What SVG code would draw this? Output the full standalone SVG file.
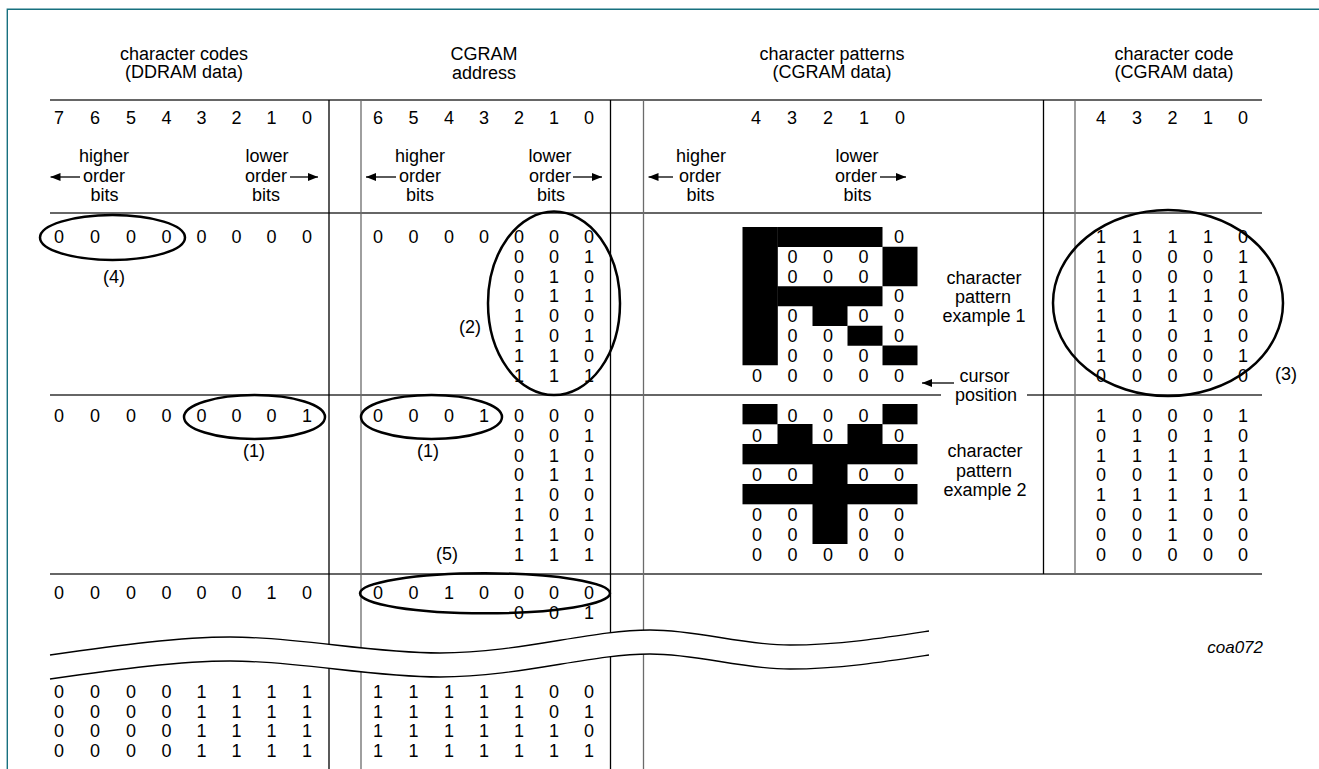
<svg xmlns="http://www.w3.org/2000/svg" width="1319" height="769" viewBox="0 0 1319 769">
<style>
text{font-family:"Liberation Sans",Arial,sans-serif;font-size:18px;fill:#000;text-anchor:middle}
.it{font-style:italic;text-anchor:end;font-size:17px}
.hl{stroke:#333;stroke-width:1.4;fill:none}
.vb{stroke:#000;stroke-width:1.3}
.vg{stroke:#6b6b6b;stroke-width:1.3}
.el{fill:none;stroke:#000;stroke-width:2.5}
.blk{fill:#000}
.ar{stroke:#000;stroke-width:1.3}
.wv{fill:none;stroke:#000;stroke-width:1.3}
</style>
<defs>
<marker id="ah" viewBox="0 0 10 8" refX="10" refY="4" markerWidth="10" markerHeight="8" markerUnits="userSpaceOnUse" orient="auto">
<path d="M0,0 L10,4 L0,8 Z" fill="#000"/>
</marker>
</defs>
<rect width="1319" height="769" fill="#fff"/>
<path d="M7.3,769 V9.3 H1319" fill="none" stroke="#17707f" stroke-width="1.4"/>

<g id="grid">
<line class="hl" x1="50" y1="100" x2="1262" y2="100"/>
<line class="hl" x1="50" y1="213" x2="1262" y2="213"/>
<line class="hl" x1="50" y1="395" x2="941" y2="395"/>
<line class="hl" x1="1027" y1="395" x2="1262" y2="395"/>
<line class="hl" x1="50" y1="574" x2="1262" y2="574"/>
<line class="vb" x1="329" y1="100" x2="329" y2="769"/>
<line class="vg" x1="361" y1="100" x2="361" y2="769"/>
<line class="vb" x1="610.5" y1="100" x2="610.5" y2="769"/>
<line class="vg" x1="643.5" y1="100" x2="643.5" y2="769"/>
<line class="vb" x1="1043.5" y1="100" x2="1043.5" y2="574"/>
<line class="vg" x1="1075" y1="100" x2="1075" y2="574"/>
</g>

<g id="titles">
<text x="184" y="60">character codes</text>
<text x="184" y="78">(DDRAM data)</text>
<text x="484" y="60">CGRAM</text>
<text x="484" y="79">address</text>
<text x="832" y="60">character patterns</text>
<text x="832" y="78">(CGRAM data)</text>
<text x="1174" y="60">character code</text>
<text x="1174" y="78">(CGRAM data)</text>
</g>

<g id="bit-headers">
<text x="59" y="124">7</text><text x="95" y="124">6</text><text x="131" y="124">5</text><text x="166.5" y="124">4</text><text x="201.5" y="124">3</text><text x="236.5" y="124">2</text><text x="271.5" y="124">1</text><text x="307" y="124">0</text>
<text x="378" y="124">6</text><text x="413.5" y="124">5</text><text x="449" y="124">4</text><text x="484" y="124">3</text><text x="519" y="124">2</text><text x="554" y="124">1</text><text x="589" y="124">0</text>
<text x="756" y="124">4</text><text x="792" y="124">3</text><text x="828" y="124">2</text><text x="864" y="124">1</text><text x="900" y="124">0</text>
<text x="1101" y="124">4</text><text x="1137" y="124">3</text><text x="1172.5" y="124">2</text><text x="1208" y="124">1</text><text x="1243" y="124">0</text>
</g>

<g id="order-labels">
<text x="104" y="161.5">higher</text><text x="104" y="181.5">order</text><text x="104.5" y="200.5">bits</text>
<text x="267" y="161.5">lower</text><text x="266" y="181.5">order</text><text x="266" y="200.5">bits</text>
<text x="420" y="161.5">higher</text><text x="420" y="181.5">order</text><text x="420" y="200.5">bits</text>
<text x="550" y="161.5">lower</text><text x="550" y="181.5">order</text><text x="551" y="200.5">bits</text>
<text x="701" y="161.5">higher</text><text x="700" y="181.5">order</text><text x="700.5" y="200.5">bits</text>
<text x="857" y="161.5">lower</text><text x="856" y="181.5">order</text><text x="857.5" y="200.5">bits</text>
</g>

<g id="connectors">
<line class="ar" x1="80" y1="177" x2="50.5" y2="177" marker-end="url(#ah)"/>
<line class="ar" x1="290" y1="177" x2="318" y2="177" marker-end="url(#ah)"/>
<line class="ar" x1="396" y1="177" x2="366" y2="177" marker-end="url(#ah)"/>
<line class="ar" x1="573" y1="177" x2="602" y2="177" marker-end="url(#ah)"/>
<line class="ar" x1="673" y1="177" x2="648.5" y2="177" marker-end="url(#ah)"/>
<line class="ar" x1="880" y1="177" x2="906" y2="177" marker-end="url(#ah)"/>
<line class="ar" x1="954" y1="383" x2="922" y2="383" marker-end="url(#ah)"/>
</g>

<g id="row0">
<text x="59" y="243">0</text><text x="95" y="243">0</text><text x="131" y="243">0</text><text x="166.5" y="243">0</text><text x="201.5" y="243">0</text><text x="236.5" y="243">0</text><text x="271.5" y="243">0</text><text x="307" y="243">0</text>
<text x="378" y="243">0</text><text x="413.5" y="243">0</text><text x="449" y="243">0</text><text x="484" y="243">0</text>
<text x="519" y="243">0</text><text x="554" y="243">0</text><text x="589" y="243">0</text>
<text x="519" y="262.8">0</text><text x="554" y="262.8">0</text><text x="589" y="262.8">1</text>
<text x="519" y="282.6">0</text><text x="554" y="282.6">1</text><text x="589" y="282.6">0</text>
<text x="519" y="302.4">0</text><text x="554" y="302.4">1</text><text x="589" y="302.4">1</text>
<text x="519" y="322.2">1</text><text x="554" y="322.2">0</text><text x="589" y="322.2">0</text>
<text x="519" y="342">1</text><text x="554" y="342">0</text><text x="589" y="342">1</text>
<text x="519" y="361.8">1</text><text x="554" y="361.8">1</text><text x="589" y="361.8">0</text>
<text x="519" y="381.6">1</text><text x="554" y="381.6">1</text><text x="589" y="381.6">1</text>
<ellipse class="el" cx="112.5" cy="237.5" rx="72.5" ry="22.5"/>
<text x="114" y="283">(4)</text>
<ellipse class="el" cx="554" cy="303.3" rx="66" ry="91.7"/>
<text x="470" y="333">(2)</text>
</g>

<g id="pattern1">
<rect class="blk" x="742.5" y="227" width="35.3" height="138.25"/>
<rect class="blk" x="777.5" y="227" width="105" height="20"/>
<rect class="blk" x="777.5" y="286.25" width="105" height="20"/>
<rect class="blk" x="882.5" y="246.75" width="35" height="39.5"/>
<rect class="blk" x="812.5" y="306" width="35" height="20"/>
<rect class="blk" x="847.5" y="325.75" width="35" height="20"/>
<rect class="blk" x="882.5" y="345.5" width="35" height="19.75"/>
<text x="899" y="243">0</text>
<text x="792.5" y="262.8">0</text><text x="828" y="262.8">0</text><text x="863.5" y="262.8">0</text>
<text x="792.5" y="282.6">0</text><text x="828" y="282.6">0</text><text x="863.5" y="282.6">0</text>
<text x="899" y="302.4">0</text>
<text x="792.5" y="322.2">0</text><text x="863.5" y="322.2">0</text><text x="899" y="322.2">0</text>
<text x="792.5" y="342">0</text><text x="828" y="342">0</text><text x="899" y="342">0</text>
<text x="792.5" y="361.8">0</text><text x="828" y="361.8">0</text><text x="863.5" y="361.8">0</text>
<text x="757" y="381.6">0</text><text x="792.5" y="381.6">0</text><text x="828" y="381.6">0</text><text x="863.5" y="381.6">0</text><text x="899" y="381.6">0</text>
<text x="984" y="284">character</text>
<text x="983" y="302.5">pattern</text>
<text x="984" y="321.5">example 1</text>
<text x="984.5" y="382">cursor</text>
<text x="986" y="401">position</text>
</g>

<g id="code1">
<text x="1101" y="243">1</text><text x="1137" y="243">1</text><text x="1172.5" y="243">1</text><text x="1208" y="243">1</text><text x="1243" y="243">0</text>
<text x="1101" y="262.8">1</text><text x="1137" y="262.8">0</text><text x="1172.5" y="262.8">0</text><text x="1208" y="262.8">0</text><text x="1243" y="262.8">1</text>
<text x="1101" y="282.6">1</text><text x="1137" y="282.6">0</text><text x="1172.5" y="282.6">0</text><text x="1208" y="282.6">0</text><text x="1243" y="282.6">1</text>
<text x="1101" y="302.4">1</text><text x="1137" y="302.4">1</text><text x="1172.5" y="302.4">1</text><text x="1208" y="302.4">1</text><text x="1243" y="302.4">0</text>
<text x="1101" y="322.2">1</text><text x="1137" y="322.2">0</text><text x="1172.5" y="322.2">1</text><text x="1208" y="322.2">0</text><text x="1243" y="322.2">0</text>
<text x="1101" y="342">1</text><text x="1137" y="342">0</text><text x="1172.5" y="342">0</text><text x="1208" y="342">1</text><text x="1243" y="342">0</text>
<text x="1101" y="361.8">1</text><text x="1137" y="361.8">0</text><text x="1172.5" y="361.8">0</text><text x="1208" y="361.8">0</text><text x="1243" y="361.8">1</text>
<text x="1101" y="381.6">0</text><text x="1137" y="381.6">0</text><text x="1172.5" y="381.6">0</text><text x="1208" y="381.6">0</text><text x="1243" y="381.6">0</text>
<ellipse class="el" cx="1168" cy="303" rx="115" ry="93"/>
<text x="1286" y="380">(3)</text>
</g>

<g id="row1">
<text x="59" y="422">0</text><text x="95" y="422">0</text><text x="131" y="422">0</text><text x="166.5" y="422">0</text><text x="201.5" y="422">0</text><text x="236.5" y="422">0</text><text x="271.5" y="422">0</text><text x="307" y="422">1</text>
<text x="378" y="422">0</text><text x="413.5" y="422">0</text><text x="449" y="422">0</text><text x="484" y="422">1</text>
<text x="519" y="422">0</text><text x="554" y="422">0</text><text x="589" y="422">0</text>
<text x="519" y="441.8">0</text><text x="554" y="441.8">0</text><text x="589" y="441.8">1</text>
<text x="519" y="461.6">0</text><text x="554" y="461.6">1</text><text x="589" y="461.6">0</text>
<text x="519" y="481.4">0</text><text x="554" y="481.4">1</text><text x="589" y="481.4">1</text>
<text x="519" y="501.2">1</text><text x="554" y="501.2">0</text><text x="589" y="501.2">0</text>
<text x="519" y="521">1</text><text x="554" y="521">0</text><text x="589" y="521">1</text>
<text x="519" y="540.8">1</text><text x="554" y="540.8">1</text><text x="589" y="540.8">0</text>
<text x="519" y="560.6">1</text><text x="554" y="560.6">1</text><text x="589" y="560.6">1</text>
<ellipse class="el" cx="254.5" cy="417" rx="70.5" ry="22"/>
<ellipse class="el" cx="431.5" cy="417" rx="70.5" ry="22"/>
<text x="254" y="457">(1)</text>
<text x="428" y="457">(1)</text>
<text x="447" y="560">(5)</text>
</g>

<g id="pattern2">
<rect class="blk" x="742.5" y="404" width="35" height="20.3"/>
<rect class="blk" x="882.5" y="404" width="35" height="20.3"/>
<rect class="blk" x="777.5" y="424" width="35" height="20.3"/>
<rect class="blk" x="847.5" y="424" width="35" height="20.3"/>
<rect class="blk" x="742.5" y="444" width="175" height="20.3"/>
<rect class="blk" x="812.5" y="464" width="35" height="20.3"/>
<rect class="blk" x="742.5" y="484" width="175" height="20.3"/>
<rect class="blk" x="812.5" y="504" width="35" height="40"/>
<text x="792.5" y="422">0</text><text x="828" y="422">0</text><text x="863.5" y="422">0</text>
<text x="757" y="441.8">0</text><text x="828" y="441.8">0</text><text x="899" y="441.8">0</text>
<text x="757" y="481.4">0</text><text x="792.5" y="481.4">0</text><text x="863.5" y="481.4">0</text><text x="899" y="481.4">0</text>
<text x="757" y="521">0</text><text x="792.5" y="521">0</text><text x="863.5" y="521">0</text><text x="899" y="521">0</text>
<text x="757" y="540.8">0</text><text x="792.5" y="540.8">0</text><text x="863.5" y="540.8">0</text><text x="899" y="540.8">0</text>
<text x="757" y="560.6">0</text><text x="792.5" y="560.6">0</text><text x="828" y="560.6">0</text><text x="863.5" y="560.6">0</text><text x="899" y="560.6">0</text>
<text x="985" y="457">character</text>
<text x="984" y="476.5">pattern</text>
<text x="985" y="496">example 2</text>
</g>

<g id="code2">
<text x="1101" y="422">1</text><text x="1137" y="422">0</text><text x="1172.5" y="422">0</text><text x="1208" y="422">0</text><text x="1243" y="422">1</text>
<text x="1101" y="441.8">0</text><text x="1137" y="441.8">1</text><text x="1172.5" y="441.8">0</text><text x="1208" y="441.8">1</text><text x="1243" y="441.8">0</text>
<text x="1101" y="461.6">1</text><text x="1137" y="461.6">1</text><text x="1172.5" y="461.6">1</text><text x="1208" y="461.6">1</text><text x="1243" y="461.6">1</text>
<text x="1101" y="481.4">0</text><text x="1137" y="481.4">0</text><text x="1172.5" y="481.4">1</text><text x="1208" y="481.4">0</text><text x="1243" y="481.4">0</text>
<text x="1101" y="501.2">1</text><text x="1137" y="501.2">1</text><text x="1172.5" y="501.2">1</text><text x="1208" y="501.2">1</text><text x="1243" y="501.2">1</text>
<text x="1101" y="521">0</text><text x="1137" y="521">0</text><text x="1172.5" y="521">1</text><text x="1208" y="521">0</text><text x="1243" y="521">0</text>
<text x="1101" y="540.8">0</text><text x="1137" y="540.8">0</text><text x="1172.5" y="540.8">1</text><text x="1208" y="540.8">0</text><text x="1243" y="540.8">0</text>
<text x="1101" y="560.6">0</text><text x="1137" y="560.6">0</text><text x="1172.5" y="560.6">0</text><text x="1208" y="560.6">0</text><text x="1243" y="560.6">0</text>
</g>

<g id="row2">
<text x="59" y="599">0</text><text x="95" y="599">0</text><text x="131" y="599">0</text><text x="166.5" y="599">0</text><text x="201.5" y="599">0</text><text x="236.5" y="599">0</text><text x="271.5" y="599">1</text><text x="307" y="599">0</text>
<text x="378" y="599">0</text><text x="413.5" y="599">0</text><text x="449" y="599">1</text><text x="484" y="599">0</text><text x="519" y="599">0</text><text x="554" y="599">0</text><text x="589" y="599">0</text>
<text x="519" y="619">0</text><text x="554" y="619">0</text><text x="589" y="619">1</text>
<ellipse class="el" cx="485" cy="593.3" rx="125" ry="20"/>
</g>

<g id="break">
<path d="M50,655 C120,645 180,637 230,637 C300,637 370,653 440,653 C520,653 590,630 650,630 C700,630 740,645 790,645 C840,645 890,637 929,631 L929,655 C890,661 840,669 790,669 C740,669 700,654 650,654 C590,654 520,677 440,677 C370,677 300,661 230,661 C180,661 120,669 50,679 Z" fill="#fff"/>
<path class="wv" d="M50,655 C120,645 180,637 230,637 C300,637 370,653 440,653 C520,653 590,630 650,630 C700,630 740,645 790,645 C840,645 890,637 929,631"/>
<path class="wv" d="M50,679 C120,669 180,661 230,661 C300,661 370,677 440,677 C520,677 590,654 650,654 C700,654 740,669 790,669 C840,669 890,661 929,655"/>
<text class="it" x="1263" y="653">coa072</text>
</g>

<g id="rows-last">
<text x="59" y="698">0</text><text x="95" y="698">0</text><text x="131" y="698">0</text><text x="166.5" y="698">0</text><text x="201.5" y="698">1</text><text x="236.5" y="698">1</text><text x="271.5" y="698">1</text><text x="307" y="698">1</text>
<text x="59" y="717.5">0</text><text x="95" y="717.5">0</text><text x="131" y="717.5">0</text><text x="166.5" y="717.5">0</text><text x="201.5" y="717.5">1</text><text x="236.5" y="717.5">1</text><text x="271.5" y="717.5">1</text><text x="307" y="717.5">1</text>
<text x="59" y="737">0</text><text x="95" y="737">0</text><text x="131" y="737">0</text><text x="166.5" y="737">0</text><text x="201.5" y="737">1</text><text x="236.5" y="737">1</text><text x="271.5" y="737">1</text><text x="307" y="737">1</text>
<text x="59" y="756.5">0</text><text x="95" y="756.5">0</text><text x="131" y="756.5">0</text><text x="166.5" y="756.5">0</text><text x="201.5" y="756.5">1</text><text x="236.5" y="756.5">1</text><text x="271.5" y="756.5">1</text><text x="307" y="756.5">1</text>
<text x="378" y="698">1</text><text x="413.5" y="698">1</text><text x="449" y="698">1</text><text x="484" y="698">1</text><text x="519" y="698">1</text><text x="554" y="698">0</text><text x="589" y="698">0</text>
<text x="378" y="717.5">1</text><text x="413.5" y="717.5">1</text><text x="449" y="717.5">1</text><text x="484" y="717.5">1</text><text x="519" y="717.5">1</text><text x="554" y="717.5">0</text><text x="589" y="717.5">1</text>
<text x="378" y="737">1</text><text x="413.5" y="737">1</text><text x="449" y="737">1</text><text x="484" y="737">1</text><text x="519" y="737">1</text><text x="554" y="737">1</text><text x="589" y="737">0</text>
<text x="378" y="756.5">1</text><text x="413.5" y="756.5">1</text><text x="449" y="756.5">1</text><text x="484" y="756.5">1</text><text x="519" y="756.5">1</text><text x="554" y="756.5">1</text><text x="589" y="756.5">1</text>
</g>
</svg>
